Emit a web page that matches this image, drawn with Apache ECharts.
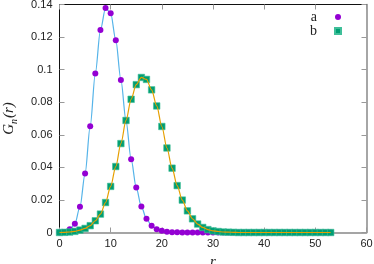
<!DOCTYPE html>
<html>
<head>
<meta charset="utf-8">
<script src="https://cdn.jsdelivr.net/npm/echarts@6/dist/echarts.min.js"></script>
<style>
html,body{margin:0;padding:0;background:#fff;}
#c{width:374px;height:264px;}
</style>
</head>
<body>
<div id="c"></div>
<script>
// r values (integers)
var rValues = [];
for (var i = 0; i <= 53; i++) rValues.push(i);

var seriesA = [0, 0.0002, 0.002, 0.0053, 0.0158, 0.0362, 0.0653, 0.0976, 0.1243, 0.1378,
  0.1347, 0.1181, 0.0937, 0.0686, 0.045, 0.0276, 0.0159, 0.0084, 0.0042, 0.002,
  0.001, 0.0005, 0.0002, 0.0001, 0, 0, 0, 0, 0, 0,
  0, 0, 0, 0, 0, 0, 0, 0, 0, 0,
  0, 0, 0, 0, 0, 0, 0, 0, 0, 0,
  0, 0, 0, 0];

var seriesB = [0, 0.0001, 0.0003, 0.0007, 0.0015, 0.0025, 0.0042, 0.0072, 0.0113, 0.0184,
  0.0283, 0.0405, 0.0546, 0.0688, 0.0818, 0.0908, 0.0952, 0.094, 0.0876, 0.0777,
  0.0651, 0.0519, 0.0395, 0.0288, 0.0199, 0.0133, 0.0084, 0.0052, 0.0031, 0.0018,
  0.001, 0.0006, 0.0003, 0.0002, 0.0001, 0, 0, 0, 0, 0,
  0, 0, 0, 0, 0, 0, 0, 0, 0, 0,
  0, 0, 0, 0];

var xTicks = [0, 10, 20, 30, 40, 50, 60];
var yTicks = [0, 0.02, 0.04, 0.06, 0.08, 0.1, 0.12, 0.14];
var seriesNames = ['a', 'b'];

function pairs(ys) {
  return rValues.map(function (r, i) { return [r, ys[i]]; });
}

var chart = echarts.init(document.getElementById('c'), null, {renderer: 'canvas'});

var tickStyle = {show: true, inside: true, length: 5, lineStyle: {color: '#999', width: 1}};

chart.setOption({
  animation: false,
  backgroundColor: '#fff',
  grid: {left: 59.5, right: 7.5, top: 4.5, bottom: 31.5, containLabel: false, outerBoundsMode: 'none'},
  legend: {
    data: seriesNames,
    orient: 'vertical',
    right: 27,
    top: 5,
    align: 'right',
    itemGap: 0,
    itemWidth: 6,
    itemHeight: 6,
    textStyle: {fontFamily: 'Liberation Serif', fontSize: 14, color: '#222', padding: [0, 13, 0, 0]}
  },
  xAxis: [{
    type: 'value', min: 0, max: 60, interval: 10, position: 'bottom',
    name: 'r', nameLocation: 'middle', nameGap: 21,
    nameTextStyle: {fontFamily: 'Liberation Serif', fontStyle: 'italic', fontSize: 15, color: '#222'},
    axisLine: {show: true, onZero: false, lineStyle: {color: '#888', width: 1.5}},
    axisTick: tickStyle,
    splitLine: {show: false},
    axisLabel: {fontFamily: 'Liberation Sans', fontSize: 11, color: '#222', margin: 6,
      formatter: function (v) { return xTicks.indexOf(v) >= 0 ? String(v) : ''; }}
  }, {
    type: 'value', min: 0, max: 60, interval: 10, position: 'top',
    axisLine: {show: true, onZero: false, lineStyle: {color: '#111', width: 1}},
    axisTick: tickStyle, axisLabel: {show: false}, splitLine: {show: false}
  }],
  yAxis: [{
    type: 'value', min: 0, max: 0.14, interval: 0.02, position: 'left',
    name: '{i|G}{s|n}{i|(r)}', nameLocation: 'middle', nameGap: 40, nameRotate: 90,
    nameTextStyle: {
      rich: {
        i: {fontFamily: 'Liberation Serif', fontStyle: 'italic', fontSize: 15, color: '#222', lineHeight: 20},
        s: {fontFamily: 'Liberation Serif', fontStyle: 'italic', fontSize: 10, color: '#222', lineHeight: 20, verticalAlign: 'bottom', padding: [0, 1, 0, 0]}
      }
    },
    axisLine: {show: true, onZero: false, lineStyle: {color: '#111', width: 1}},
    axisTick: tickStyle,
    splitLine: {show: false},
    axisLabel: {fontFamily: 'Liberation Sans', fontSize: 11, color: '#222', margin: 7,
      formatter: function (v) {
        var t = yTicks.find(function (y) { return Math.abs(y - v) < 1e-9; });
        return t === undefined ? '' : String(t);
      }}
  }, {
    type: 'value', min: 0, max: 0.14, interval: 0.02, position: 'right',
    axisLine: {show: true, onZero: false, lineStyle: {color: '#888', width: 1.5}},
    axisTick: tickStyle, axisLabel: {show: false}, splitLine: {show: false}
  }],
  series: [
    {
      name: 'a-line', type: 'line', data: pairs(seriesA), showSymbol: false, symbol: 'none',
      smooth: 0.3, smoothMonotone: 'x',
      lineStyle: {color: '#56b4e9', width: 1.2}, z: 2, silent: true
    },
    {
      name: seriesNames[0], type: 'scatter', data: pairs(seriesA), symbol: 'circle', symbolSize: 6,
      itemStyle: {color: '#9400d3', opacity: 1}, z: 3
    },
    {
      name: seriesNames[1], type: 'scatter', data: pairs(seriesB), symbol: 'rect', symbolSize: 6.5,
      itemStyle: {color: '#009e73', opacity: 1, borderColor: '#3fbf99', borderWidth: 0.6}, z: 4
    },
    {
      name: 'b-line', type: 'line', data: pairs(seriesB), showSymbol: false, symbol: 'none',
      smooth: 0.3, smoothMonotone: 'x',
      lineStyle: {color: '#e69f00', width: 1.2}, z: 5, silent: true
    }
  ]
});
</script>
</body>
</html>
